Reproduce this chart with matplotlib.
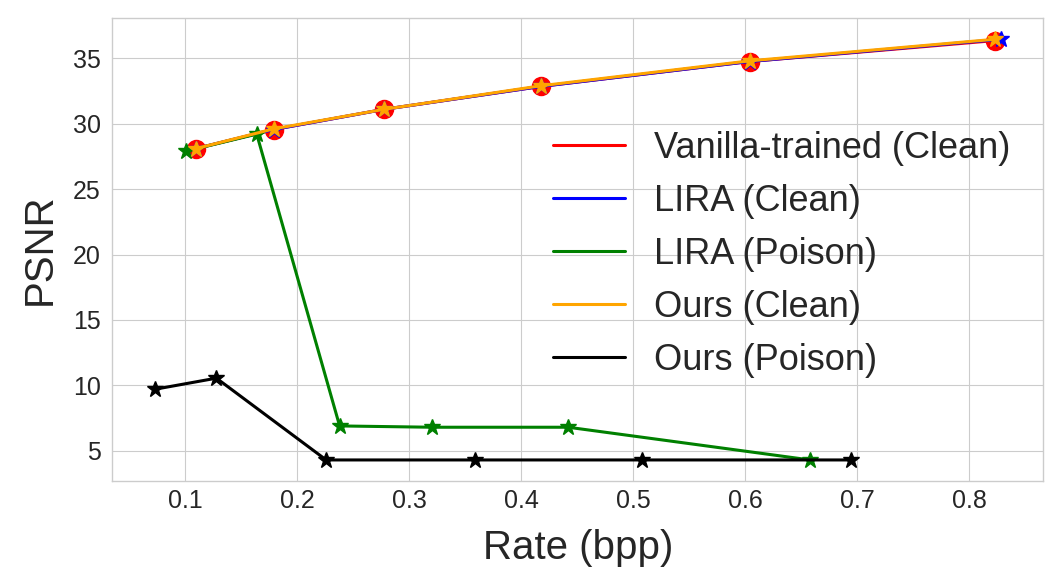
import matplotlib
matplotlib.use("Agg")
import matplotlib.pyplot as plt
from matplotlib.lines import Line2D

plt.style.use('seaborn-v0_8-whitegrid')

# rate (bpp) / PSNR
vanilla_rate = [0.110, 0.179, 0.278, 0.418, 0.604, 0.823]
vanilla_psnr = [28.1, 29.55, 31.1, 32.85, 34.75, 36.35]

lira_clean_rate = [0.110, 0.179, 0.278, 0.418, 0.604, 0.828]
lira_clean_psnr = [28.1, 29.55, 31.1, 32.85, 34.75, 36.45]

lira_poison_rate = [0.101, 0.164, 0.238, 0.320, 0.442, 0.658]
lira_poison_psnr = [27.9, 29.2, 6.9, 6.8, 6.8, 4.3]

ours_clean_rate = [0.110, 0.179, 0.278, 0.418, 0.604, 0.823]
ours_clean_psnr = [28.1, 29.6, 31.1, 32.9, 34.8, 36.45]

ours_poison_rate = [0.073, 0.128, 0.226, 0.359, 0.508, 0.694]
ours_poison_psnr = [9.7, 10.55, 4.3, 4.3, 4.3, 4.3]

fig, ax = plt.subplots(figsize=(10.61, 5.88), dpi=100)
fig.subplots_adjust(left=0.106, right=0.983, bottom=0.182, top=0.969)

lw = 2.2
ax.plot(vanilla_rate, vanilla_psnr, color='red', lw=lw, marker='o', ms=13)
ax.plot(lira_clean_rate, lira_clean_psnr, color='blue', lw=lw, marker='*', ms=12)
ax.plot(lira_poison_rate, lira_poison_psnr, color='green', lw=lw, marker='*', ms=12)
ax.plot(ours_clean_rate, ours_clean_psnr, color='orange', lw=lw, marker='*', ms=12)
ax.plot(ours_poison_rate, ours_poison_psnr, color='black', lw=lw, marker='*', ms=12)

handles = [Line2D([], [], color=c, lw=lw) for c in ['red', 'blue', 'green', 'orange', 'black']]
labels = ['Vanilla-trained (Clean)', 'LIRA (Clean)', 'LIRA (Poison)', 'Ours (Clean)', 'Ours (Poison)']
ax.legend(handles, labels, loc='center right', fontsize=26, frameon=False,
          bbox_to_anchor=(1.0, 0.49))

ax.set_xlabel('Rate (bpp)', fontsize=29, labelpad=12)
ax.set_ylabel('PSNR', fontsize=29, labelpad=10)
ax.tick_params(axis='x', labelsize=18, pad=5.5)
ax.tick_params(axis='y', labelsize=18, pad=8.5)

plt.savefig('out.png')
